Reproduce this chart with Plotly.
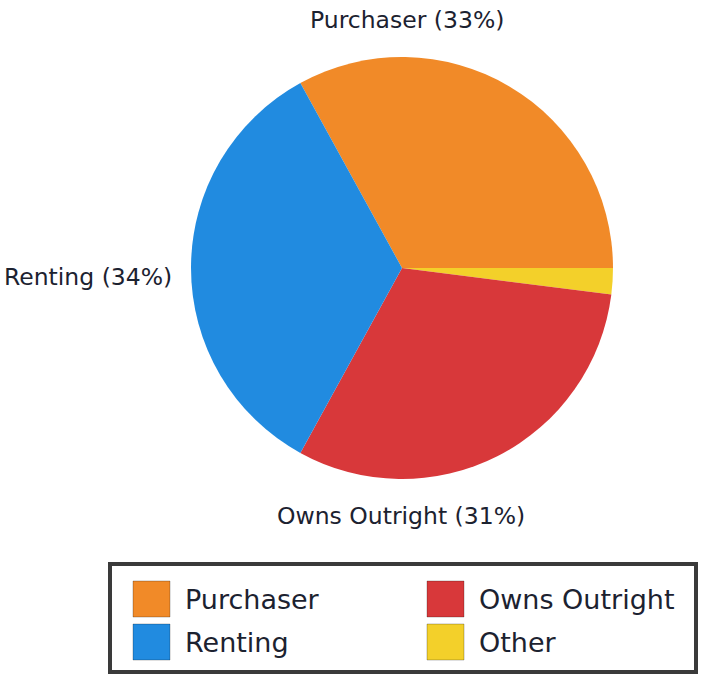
import plotly.graph_objects as go

W, H = 701, 677

# ---- data ----
categories = ["Purchaser", "Other", "Owns Outright", "Renting"]
values = [33, 2, 31, 34]
colors = ["#F18A28", "#F3D02A", "#D8383A", "#218BE0"]
labelled = ["Purchaser", "Renting", "Owns Outright"]
legend_order = ["Purchaser", "Owns Outright", "Renting", "Other"]

def px(x):
    return x / W

def py(y):
    return 1 - y / H

cmap = dict(zip(categories, colors))
vmap = dict(zip(categories, values))

fig = go.Figure()
fig.add_trace(go.Pie(
    labels=categories,
    values=values,
    sort=False,
    direction="clockwise",
    rotation=-28.8,
    marker=dict(colors=colors, line=dict(width=0)),
    textinfo="none",
    hoverinfo="label+percent",
    showlegend=False,
    domain=dict(x=[px(191), px(613)], y=[py(479), py(57)]),
))

# slice labels (layout positions)
label_pos = {
    "Purchaser": (407, 20),
    "Renting": (88, 277),
    "Owns Outright": (401, 516),
}
annotations = []
for name in labelled:
    x, y = label_pos[name]
    annotations.append(dict(
        x=px(x), y=py(y), xref="paper", yref="paper",
        text=f"{name} ({vmap[name]}%)", showarrow=False,
        font=dict(family="DejaVu Sans", size=23.5, color="#1c2230"),
        xanchor="center", yanchor="middle",
    ))

# manual legend box
shapes = [dict(
    type="rect", xref="paper", yref="paper",
    x0=px(110), x1=px(696), y0=py(672), y1=py(564),
    line=dict(color="#3a3a3a", width=4), fillcolor="white",
)]
col_x = [133, 427]
row_y = [599, 642]
for i, name in enumerate(legend_order):
    cx = col_x[i % 2]
    cy = row_y[i // 2]
    shapes.append(dict(
        type="rect", xref="paper", yref="paper",
        x0=px(cx), x1=px(cx + 37), y0=py(cy + 18), y1=py(cy - 18),
        line=dict(color="rgba(0,0,0,0.25)", width=1), fillcolor=cmap[name],
    ))
    annotations.append(dict(
        x=px(cx + 50), y=py(cy), xref="paper", yref="paper",
        text=name, showarrow=False,
        font=dict(family="DejaVu Sans", size=27, color="#1c2230"),
        xanchor="left", yanchor="middle",
    ))

fig.update_layout(
    width=W, height=H,
    margin=dict(l=0, r=0, t=0, b=0),
    paper_bgcolor="white",
    plot_bgcolor="white",
    showlegend=False,
    shapes=shapes,
    annotations=annotations,
)

fig.write_html("out.html", config={"displayModeBar": False},
               post_script="document.body.style.margin='0';")
